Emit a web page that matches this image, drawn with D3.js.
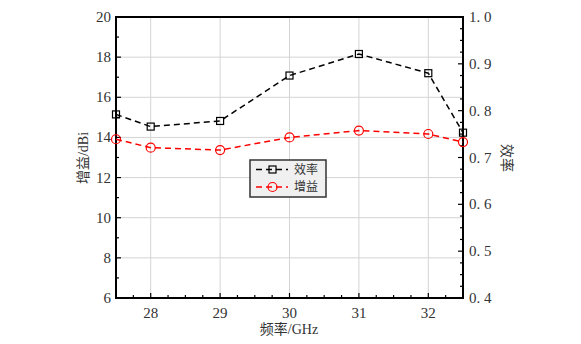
<!DOCTYPE html>
<html>
<head>
<meta charset="utf-8">
<script src="https://cdn.jsdelivr.net/npm/d3@7"></script>
<style>
  body { margin: 0; background: #fff; }
  text { font-family: "Liberation Serif", "Noto Sans CJK SC", serif; }
  .cjk { font-family: "Noto Sans CJK SC", sans-serif; }
</style>
</head>
<body>
<div id="chart"></div>
<script>
// data
const freq = [27.5, 28, 29, 30, 31, 32, 32.5];
const efficiency = [0.792, 0.766, 0.778, 0.875, 0.921, 0.880, 0.753];
const gain = [13.91, 13.49, 13.37, 14.0, 14.34, 14.17, 13.77];
const xTicks = [28, 29, 30, 31, 32];
const gainTicks = [6, 8, 10, 12, 14, 16, 18, 20];
const effTicks = [0.4, 0.5, 0.6, 0.7, 0.8, 0.9, 1.0];

const width = 581, height = 344;
const m = { left: 116, right: 463, top: 17, bottom: 298 };

const svg = d3.select("#chart").append("svg")
  .attr("width", width)
  .attr("height", height);

const x = d3.scaleLinear().domain([27.5, 32.5]).range([m.left, m.right]);
const yL = d3.scaleLinear().domain([6, 20]).range([m.bottom, m.top]);
const yR = d3.scaleLinear().domain([0.4, 1.0]).range([m.bottom, m.top]);

// grid
svg.append("g").selectAll("line")
  .data(xTicks).enter().append("line")
  .attr("x1", d => x(d)).attr("x2", d => x(d))
  .attr("y1", m.top).attr("y2", m.bottom)
  .attr("stroke", "#d4d4d4").attr("stroke-width", 1);
svg.append("g").selectAll("line")
  .data(gainTicks.slice(1, -1)).enter().append("line")
  .attr("x1", m.left).attr("x2", m.right)
  .attr("y1", d => yL(d)).attr("y2", d => yL(d))
  .attr("stroke", "#d4d4d4").attr("stroke-width", 1);

// ticks (inward)
const tk = svg.append("g").attr("stroke", "#000").attr("stroke-width", 1.2);
d3.range(27.75, 32.5, 0.25).forEach(v => {
  const major = xTicks.includes(v);
  tk.append("line").attr("x1", x(v)).attr("x2", x(v))
    .attr("y1", m.bottom).attr("y2", m.bottom - (major ? 5 : 3));
});
d3.range(7, 20, 1).forEach(v => {
  const major = v % 2 === 0;
  tk.append("line").attr("y1", yL(v)).attr("y2", yL(v))
    .attr("x1", m.left).attr("x2", m.left + (major ? 5 : 3));
});
d3.range(1, 24).forEach(i => {
  const v = 0.4 + i * 0.025;
  const major = i % 4 === 0;
  tk.append("line").attr("y1", yR(v)).attr("y2", yR(v))
    .attr("x1", m.right).attr("x2", m.right - (major ? 5 : 3));
});

// frame
svg.append("rect")
  .attr("x", m.left).attr("y", m.top)
  .attr("width", m.right - m.left).attr("height", m.bottom - m.top)
  .attr("fill", "none").attr("stroke", "#000").attr("stroke-width", 2);

// tick labels
svg.append("g").selectAll("text").data(xTicks).enter().append("text")
  .attr("x", d => x(d)).attr("y", 318)
  .attr("text-anchor", "middle").attr("font-size", 15).attr("fill", "#333")
  .text(d => d);
svg.append("g").selectAll("text").data(gainTicks).enter().append("text")
  .attr("x", 111).attr("y", d => yL(d) + 5)
  .attr("text-anchor", "end").attr("font-size", 15).attr("fill", "#333")
  .text(d => d);
svg.append("g").selectAll("text").data(effTicks).enter().append("text")
  .attr("x", 469).attr("y", d => yR(d) + 5)
  .attr("font-size", 15).attr("fill", "#333")
  .text(d => d3.format(".1f")(d).replace(".", ". "));

// axis titles
svg.append("text").attr("x", 289).attr("y", 334)
  .attr("text-anchor", "middle").attr("font-size", 14).attr("fill", "#333")
  .text("频率/GHz");
svg.append("text")
  .attr("transform", "translate(88,158) rotate(-90)")
  .attr("text-anchor", "middle").attr("font-size", 14).attr("fill", "#333")
  .text("增益/dBi");
svg.append("text").attr("class", "cjk")
  .attr("transform", "translate(502,158) rotate(90)")
  .attr("text-anchor", "middle").attr("font-size", 14).attr("fill", "#333")
  .text("效率");

// series
const effLine = d3.line().x((d, i) => x(freq[i])).y(d => yR(d));
const gainLine = d3.line().x((d, i) => x(freq[i])).y(d => yL(d));

svg.append("path").datum(efficiency)
  .attr("d", effLine).attr("fill", "none")
  .attr("stroke", "#000").attr("stroke-width", 1.5).attr("stroke-dasharray", "6,4");
svg.append("g").selectAll("rect").data(efficiency).enter().append("rect")
  .attr("x", (d, i) => x(freq[i]) - 3.5).attr("y", d => yR(d) - 3.5)
  .attr("width", 7).attr("height", 7)
  .attr("fill", "none").attr("stroke", "#000").attr("stroke-width", 1.2);

svg.append("path").datum(gain)
  .attr("d", gainLine).attr("fill", "none")
  .attr("stroke", "#f00").attr("stroke-width", 1.5).attr("stroke-dasharray", "6,4");
svg.append("g").selectAll("circle").data(gain).enter().append("circle")
  .attr("cx", (d, i) => x(freq[i])).attr("cy", d => yL(d))
  .attr("r", 4.5)
  .attr("fill", "none").attr("stroke", "#f00").attr("stroke-width", 1.2);

// legend
const lg = svg.append("g");
lg.append("rect").attr("x", 250).attr("y", 160).attr("width", 76).attr("height", 37)
  .attr("fill", "#f0f0f0").attr("stroke", "#333").attr("stroke-width", 1.5);
const items = [
  { name: "效率", color: "#000", shape: "square", y: 169.5 },
  { name: "增益", color: "#f00", shape: "circle", y: 187 }
];
items.forEach(it => {
  lg.append("line").attr("x1", 256).attr("x2", 288)
    .attr("y1", it.y).attr("y2", it.y)
    .attr("stroke", it.color).attr("stroke-width", 1.5).attr("stroke-dasharray", "6,4");
  if (it.shape === "square") {
    lg.append("rect").attr("x", 269).attr("y", it.y - 3.5).attr("width", 7).attr("height", 7)
      .attr("fill", "none").attr("stroke", it.color).attr("stroke-width", 1.2);
  } else {
    lg.append("circle").attr("cx", 272.5).attr("cy", it.y).attr("r", 4.5)
      .attr("fill", "none").attr("stroke", it.color).attr("stroke-width", 1.2);
  }
  lg.append("text").attr("class", "cjk").attr("x", 294).attr("y", it.y + 4.2)
    .attr("font-size", 12).attr("fill", "#333").text(it.name);
});
</script>
</body>
</html>
